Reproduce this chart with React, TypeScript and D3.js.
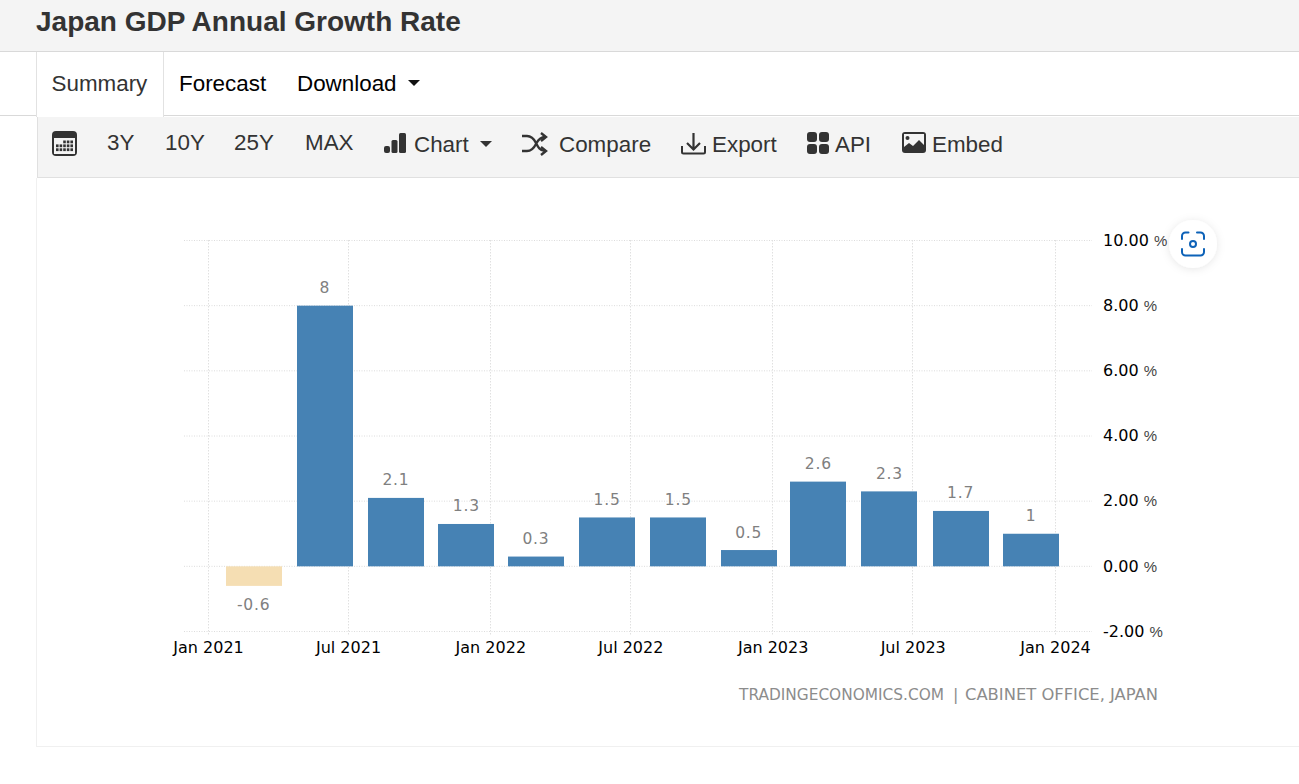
import { useEffect, useRef } from "react";
import * as d3 from "d3";

const quarters = [
  "2021-03-01", "2021-06-01", "2021-09-01", "2021-12-01", "2022-03-01", "2022-06-01",
  "2022-09-01", "2022-12-01", "2023-03-01", "2023-06-01", "2023-09-01", "2023-12-01",
];
const growth = [-0.6, 8, 2.1, 1.3, 0.3, 1.5, 1.5, 0.5, 2.6, 2.3, 1.7, 1];
const xTicks = ["2021-01-01", "2021-07-01", "2022-01-01", "2022-07-01", "2023-01-01", "2023-07-01", "2024-01-01"];
const yTicks = [-2, 0, 2, 4, 6, 8, 10];
const rangeButtons = [
  { label: "3Y", x: 107 },
  { label: "10Y", x: 165 },
  { label: "25Y", x: 234 },
  { label: "MAX", x: 305 },
];

const parse = d3.utcParse("%Y-%m-%d");
const uiFont = "'Liberation Sans', Arial, sans-serif";
const chartFont = "'DejaVu Sans', Verdana, sans-serif";
const uiSize = 22.4;

export default function App() {
  const svgRef = useRef<SVGSVGElement>(null);

  useEffect(() => {
    if (!svgRef.current) return;
    const svg = d3.select(svgRef.current);
    svg.selectAll("g.chart").remove();
    const g = svg.append("g").attr("class", "chart");

    const x = d3
      .scaleUtc()
      .domain([parse(xTicks[0])!, parse(xTicks[xTicks.length - 1])!])
      .range([208, 1055]);
    const y = d3.scaleLinear().domain([-2, 10]).range([631.5, 240.5]);
    const barWidth = 56;
    const crisp = (d: string) => Math.floor(x(parse(d)!)) + 0.5;

    // Horizontal grid
    g.append("g")
      .selectAll("line")
      .data(yTicks)
      .join("line")
      .attr("x1", 184)
      .attr("x2", 1092)
      .attr("y1", (d) => y(d))
      .attr("y2", (d) => y(d))
      .attr("stroke", "#dcdcdc")
      .attr("stroke-dasharray", "1,1.5");

    // Vertical grid
    g.append("g")
      .selectAll("line")
      .data(xTicks)
      .join("line")
      .attr("x1", crisp)
      .attr("x2", crisp)
      .attr("y1", 240)
      .attr("y2", 636)
      .attr("stroke", "#e0e0e0")
      .attr("stroke-dasharray", "1.5,1.5");

    // Bars
    g.append("g")
      .selectAll("rect")
      .data(growth)
      .join("rect")
      .attr("x", (_, i) => Math.round(x(parse(quarters[i])!) - barWidth / 2))
      .attr("y", (d) => y(Math.max(d, 0)))
      .attr("width", barWidth)
      .attr("height", (d) => Math.abs(y(d) - y(0)))
      .attr("fill", (d) => (d < 0 ? "#f5deb3" : "#4682b4"));

    // Value labels
    g.append("g")
      .selectAll("text")
      .data(growth)
      .join("text")
      .attr("x", (_, i) => x(parse(quarters[i])!))
      .attr("y", (d) => (d < 0 ? y(d) + 24 : y(d) - 12.5))
      .attr("text-anchor", "middle")
      .attr("font-family", chartFont)
      .attr("font-size", 15.5)
      .attr("letter-spacing", "0.8")
      .attr("fill", "#808080")
      .text((d) => String(d));

    // X axis labels, the tick marks come from the vertical grid
    const xAxis = d3
      .axisBottom(x)
      .tickValues(xTicks.map((d) => parse(d)!))
      .tickSize(0)
      .tickFormat((d) => d3.utcFormat("%b %Y")(d as Date));
    g.append("g")
      .attr("transform", "translate(0,631.5)")
      .call(xAxis)
      .call((a) => a.select(".domain").remove())
      .call((a) =>
        a
          .selectAll(".tick text")
          .attr("y", 7)
          .attr("dy", "0.9em")
          .attr("fill", "#000")
          .attr("font-family", chartFont)
          .attr("font-size", 16)
      );

    // Y axis
    const yAxis = d3
      .axisRight(y)
      .tickValues(yTicks)
      .tickSize(0)
      .tickFormat((d) => `${(d as number).toFixed(2)} `);
    g.append("g")
      .attr("transform", "translate(1103,0)")
      .call(yAxis)
      .call((a) => a.select(".domain").remove())
      .call((a) =>
        a
          .selectAll<SVGTextElement, number>(".tick text")
          .attr("x", 0)
          .attr("dy", "0.3em")
          .attr("fill", "#000")
          .attr("font-family", chartFont)
          .attr("font-size", 16)
          .each(function () {
            d3.select(this)
              .append("tspan")
              .attr("fill", "#444")
              .attr("font-family", uiFont)
              .attr("font-size", 15)
              .text("%");
          })
      );
  }, []);

  return (
    <svg
      ref={svgRef}
      width={1299}
      height={784}
      style={{ position: "absolute", left: 0, top: 0, display: "block", background: "#fff" }}
    >
      <defs>
        <filter id="btnShadow" x="-40%" y="-40%" width="180%" height="180%">
          <feDropShadow dx="0" dy="1" stdDeviation="4" floodColor="#000" floodOpacity="0.1" />
        </filter>
      </defs>

      {/* Title bar */}
      <rect x={0} y={0} width={1299} height={51} fill="#f4f4f4" />
      <rect x={0} y={51} width={1299} height={1} fill="#d9d9d9" />
      <text x={36} y={31} fontFamily={uiFont} fontSize={28} fontWeight={700} fill="#333">
        Japan GDP Annual Growth Rate
      </text>

      {/* Tabs */}
      <rect x={0} y={115} width={1299} height={1} fill="#d9d9d9" />
      <rect x={36} y={52} width={128} height={65} fill="#fff" />
      <rect x={36} y={52} width={1} height={65} fill="#e2e2e2" />
      <rect x={163} y={52} width={1} height={65} fill="#e2e2e2" />
      <text x={51.500} y={90.500} fontFamily={uiFont} fontSize={uiSize} fill="#333">Summary</text>
      <text x={179} y={90.500} fontFamily={uiFont} fontSize={uiSize} fill="#000">Forecast</text>
      <text x={297} y={90.500} fontFamily={uiFont} fontSize={uiSize} fill="#000">Download</text>
      <path d="M408 80h12l-6 6z" fill="#111" />

      {/* Toolbar */}
      <rect x={37} y={117} width={1262} height={60} fill="#f4f4f4" />
      <rect x={37} y={117} width={1} height={61} fill="#e0e0e0" />
      <rect x={37} y={177} width={1262} height={1} fill="#e0e0e0" />

      {/* Calendar icon */}
      <rect x={52} y={131} width={25} height={25} rx={4} fill="#333" />
      <rect x={54} y={138} width={21} height={16} fill="#f4f4f4" />
      <g fill="#333">
        {[0, 1, 2, 3, 4].map((c) =>
          [0, 1, 2].map((r) =>
            r === 0 && c < 2 ? null : (
              <rect key={`${c}-${r}`} x={56 + c * 3.6} y={140.500 + r * 3.9} width={2.6} height={2.8} />
            )
          )
        )}
      </g>

      {rangeButtons.map((b) => (
        <text key={b.label} x={b.x} y={150} fontFamily={uiFont} fontSize={uiSize} fill="#333">
          {b.label}
        </text>
      ))}

      {/* Chart icon */}
      <rect x={384} y={146} width={6} height={7} rx={2} fill="#333" />
      <rect x={391.500} y={140} width={6} height={13} rx={1.500} fill="#333" />
      <rect x={399} y={133} width={7} height={20} rx={1.500} fill="#333" />
      <text x={414} y={152} fontFamily={uiFont} fontSize={uiSize} fill="#333">Chart</text>
      <path d="M480 141h12l-6 6z" fill="#333" />

      {/* Compare icon */}
      <path
        d="M522 136h5c5 0 7 3 9 7s4 8 9 8h0M522 151h5c5 0 7-3 9-7s4-7 9-7h0"
        fill="none"
        stroke="#333"
        strokeWidth={2.4}
      />
      <path d="M541 133l5 4-5 4M541 147l5 4-5 4" fill="none" stroke="#333" strokeWidth={2.4} />
      <text x={559} y={152} fontFamily={uiFont} fontSize={uiSize} fill="#333">Compare</text>

      {/* Export icon */}
      <path
        d="M682 146v6a1.500 1.500 0 0 0 1.500 1.500h20a1.500 1.500 0 0 0 1.500-1.500v-6"
        fill="none"
        stroke="#333"
        strokeWidth={2}
      />
      <path d="M693.500 133v16M687 143l6.500 6.500 6.500-6.500" fill="none" stroke="#333" strokeWidth={2.2} />
      <text x={712} y={152} fontFamily={uiFont} fontSize={uiSize} fill="#333">Export</text>

      {/* API icon */}
      <g fill="#333">
        <rect x={807} y={132} width={10} height={10} rx={3} />
        <rect x={819} y={132} width={10} height={10} rx={3} />
        <rect x={807} y={144} width={10} height={10} rx={3} />
        <rect x={819} y={144} width={10} height={10} rx={3} />
      </g>
      <text x={835} y={152} fontFamily={uiFont} fontSize={uiSize} fill="#333">API</text>

      {/* Embed icon */}
      <rect x={902} y={132} width={24} height={21} rx={3} fill="#333" />
      <rect x={904} y={134} width={20} height={17} fill="#f4f4f4" />
      <circle cx={907.500} cy={138} r={2} fill="#333" />
      <path d="M904 151v-4l5-4 4 3 6-6 5 5v6z" fill="#333" />
      <text x={932} y={152} fontFamily={uiFont} fontSize={uiSize} fill="#333">Embed</text>

      {/* Chart panel border */}
      <rect x={36} y={178} width={1} height={568} fill="#f0f0f0" />
      <rect x={36} y={746} width={1263} height={1} fill="#f0f0f0" />

      {/* Attribution */}
      <text y={700} fontFamily={chartFont} fontSize={16} fill="#8c8c8c">
        <tspan x={739} textLength={205} lengthAdjust="spacingAndGlyphs">TRADINGECONOMICS.COM</tspan>
        <tspan x={953}>|</tspan>
        <tspan x={965} textLength={193} lengthAdjust="spacingAndGlyphs">CABINET OFFICE, JAPAN</tspan>
      </text>

      {/* Screenshot button */}
      <circle cx={1193} cy={244} r={24} fill="#fff" filter="url(#btnShadow)" />
      <path
        d="M1182 239v-3a3.500 3.500 0 0 1 3.500-3.500h3M1197 232.500h3.500a3.500 3.500 0 0 1 3.500 3.500v3M1204 249v3a3.500 3.500 0 0 1-3.500 3.500h-15a3.500 3.500 0 0 1-3.500-3.500v-3"
        fill="none"
        stroke="#0d62b8"
        strokeWidth={2}
        strokeLinecap="round"
      />
      <circle cx={1193} cy={244} r={3} fill="none" stroke="#0d62b8" strokeWidth={2} />
    </svg>
  );
}
